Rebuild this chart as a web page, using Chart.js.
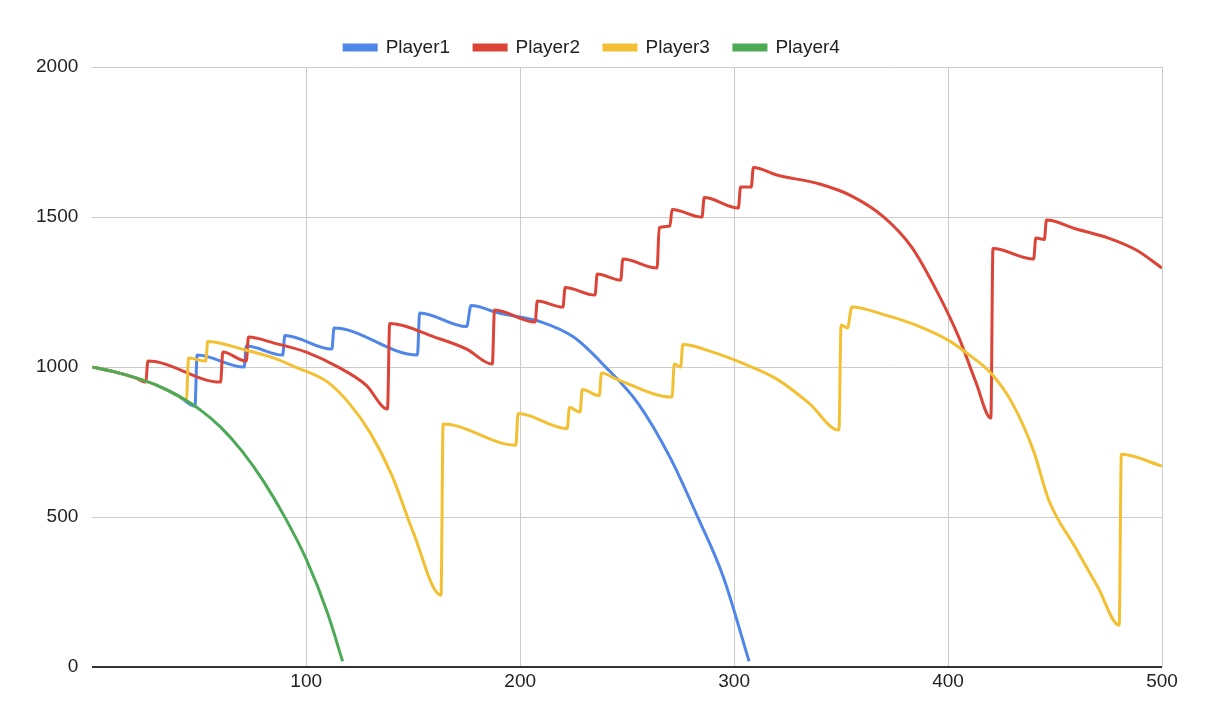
<!DOCTYPE html>
<html><head><meta charset="utf-8">
<script src="https://cdn.jsdelivr.net/npm/chart.js@4/dist/chart.umd.min.js"></script>
<style>html,body{margin:0;background:#fff}#w{width:1222px;height:716px}</style>
</head><body><div id="w"><canvas id="c"></canvas></div>
<script>
const seriesNames = ["Player1","Player2","Player3","Player4"];
const colors = ["#4f86e8","#db4437","#f4c033","#4caa55"];
const p1x=[0,10,20,30,40,48,49,71,72,89,90,112,113,152,153,175,177,190,210,225,240,255,270,283,295,307];
const p1y=[1000,985,965,940,905,870,1040,1000,1070,1040,1105,1060,1130,1040,1180,1135,1205,1180,1150,1100,1000,880,700,500,300,20];
const p2x=[0,10,20,25,26,60,61,72,73,85,100,115,128,138,139,160,175,187,188,207,208,220,221,235,236,247,248,264,265,270,271,285,286,302,303,308,309,320,340,355,370,383,395,405,413,420,421,440,441,445,446,460,475,488,500];
const p2y=[1000,985,965,950,1020,950,1050,1020,1100,1080,1050,1000,940,860,1145,1100,1060,1010,1190,1150,1220,1200,1265,1240,1310,1290,1360,1330,1465,1470,1525,1500,1565,1530,1600,1600,1665,1640,1610,1570,1500,1400,1250,1100,950,830,1395,1360,1430,1425,1490,1460,1430,1390,1330];
const p3x=[0,10,20,30,40,44,45,53,54,70,85,95,110,120,130,140,150,163,164,198,199,222,223,228,229,237,238,245,271,272,275,276,290,305,320,335,349,350,353,355,370,385,400,410,420,430,440,447,460,470,480,481,500];
const p3y=[1000,985,965,940,905,890,1030,1020,1085,1060,1030,1000,950,880,780,640,450,240,810,740,845,795,865,850,925,905,980,960,900,1010,1000,1075,1050,1010,960,880,790,1140,1130,1200,1175,1140,1090,1040,980,880,720,558,393,267,140,710,670];
const p4x=[0,10,20,30,40,50,60,70,80,90,100,110,117];
const p4y=[1000,985,965,940,905,860,800,720,620,500,360,180,20];
const xs=[p1x,p2x,p3x,p4x], ys=[p1y,p2y,p3y,p4y];
const xTicks=[100,200,300,400,500];
// dataset array in draw order: Player4 last in array is drawn... keep green on top by listing it first
const ds=[3,2,1,0].map(i=>({label:seriesNames[i],data:xs[i].map((x,k)=>({x,y:ys[i][k]})),borderColor:colors[i],backgroundColor:colors[i],borderWidth:3,pointRadius:0,tension:0.2,cubicInterpolationMode:'monotone'}));
Chart.defaults.font.family="Arial, 'Liberation Sans', sans-serif";
new Chart(document.getElementById('c'),{type:'line',data:{datasets:ds},
options:{responsive:true,maintainAspectRatio:false,animation:false,
layout:{padding:{left:22,right:60,top:14,bottom:20}},
plugins:{legend:{position:'top',labels:{boxWidth:32,boxHeight:5,font:{size:19},color:'#222',padding:24,
  sort:(a,b)=>a.text.localeCompare(b.text)}},tooltip:{enabled:false}},
scales:{
x:{type:'linear',min:0,max:500,afterBuildTicks:a=>{a.ticks=[0,...xTicks].map(v=>({value:v}));},
ticks:{font:{size:19},color:'#222',callback:v=>v===0?'':String(v)},
grid:{color:c=>c.tick.value===0?'rgba(0,0,0,0)':'#ccc',drawTicks:false},border:{display:false}},
y:{min:0,max:2000,ticks:{stepSize:500,font:{size:19},color:'#222',padding:14,callback:v=>String(v)},
grid:{color:c=>c.tick.value===0?'#333':'#ccc',lineWidth:c=>c.tick.value===0?2:1,drawTicks:false},border:{display:false}}
}}});
</script></body></html>
